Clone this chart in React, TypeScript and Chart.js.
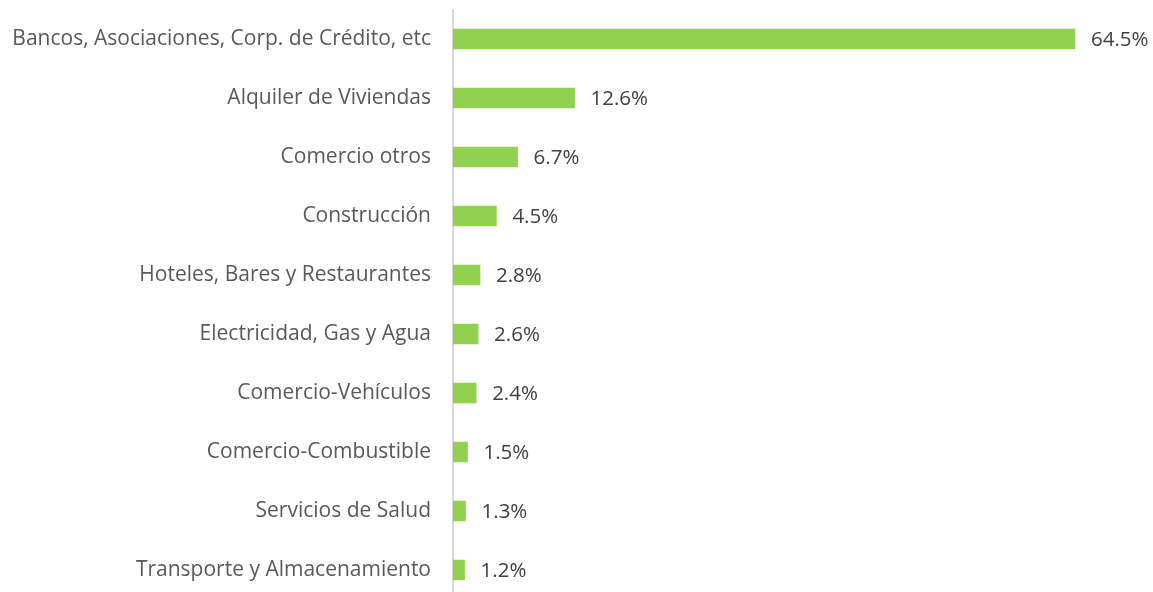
import React, { useEffect, useRef } from "react";
import { Chart, registerables } from "chart.js";

Chart.register(...registerables);

const categories = [
  "Bancos, Asociaciones, Corp. de Crédito, etc",
  "Alquiler de Viviendas",
  "Comercio otros",
  "Construcción",
  "Hoteles, Bares y Restaurantes",
  "Electricidad, Gas y Agua",
  "Comercio-Vehículos",
  "Comercio-Combustible",
  "Servicios de Salud",
  "Transporte y Almacenamiento",
];
const values = [64.5, 12.6, 6.7, 4.5, 2.8, 2.6, 2.4, 1.5, 1.3, 1.2];

const FONT = "'Open Sans', sans-serif";

export default function App() {
  const ref = useRef<HTMLCanvasElement>(null);
  useEffect(() => {
    document.body.style.margin = "0";
    document.body.style.overflow = "hidden";
    document.documentElement.style.overflow = "hidden";
    const labelPlugin = {
      id: "valueLabels",
      afterDatasetsDraw(chart: any) {
        const ctx = chart.ctx;
        const meta = chart.getDatasetMeta(0);
        ctx.save();
        ctx.font = `20.5px ${FONT}`;
        ctx.fillStyle = "#404040";
        ctx.textAlign = "left";
        ctx.textBaseline = "middle";
        meta.data.forEach((bar: any, i: number) => {
          ctx.fillText(values[i].toFixed(1) + "%", bar.x + 16, bar.y + 1);
        });
        ctx.restore();
      },
    };
    const chart = new Chart(ref.current!, {
      type: "bar",
      data: {
        labels: categories,
        datasets: [
          {
            data: values,
            backgroundColor: "#92D050",
            borderWidth: 0,
            barThickness: 20,
          },
        ],
      },
      options: {
        indexAxis: "y",
        responsive: false,
        animation: false,
        layout: { padding: { top: 9.5, bottom: 0.5, right: 25, left: 0 } },
        plugins: { legend: { display: false }, tooltip: { enabled: false } },
        scales: {
          x: { display: false, min: 0, max: 70 },
          y: {
            afterFit: (scale: any) => {
              scale.width = 453;
              scale.paddingTop = 0;
              scale.paddingBottom = 0;
            },
            grid: { display: false, drawTicks: false },
            border: { display: true, color: "#d9d9d9", width: 2 },
            ticks: {
              padding: 22,
              color: "#595959",
              font: { family: FONT, size: 21 },
            },
          },
        },
      },
      plugins: [labelPlugin],
    });
    return () => chart.destroy();
  }, []);
  return <canvas ref={ref} width={1153} height={600} style={{ display: "block" }} />;
}
